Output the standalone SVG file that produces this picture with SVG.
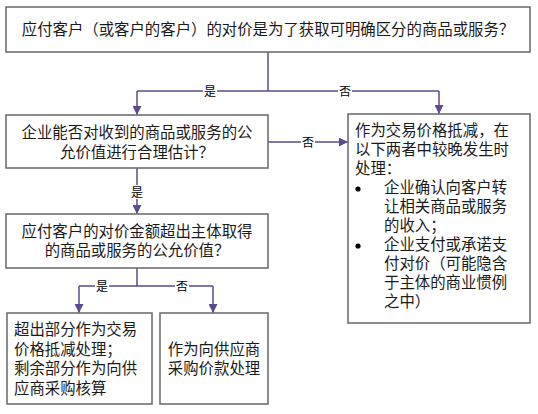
<svg xmlns="http://www.w3.org/2000/svg" width="538" height="414" viewBox="0 0 538 414">
<defs>
<style>
.box{fill:#fff;stroke:#707070;stroke-width:1.6}
.t{font-family:"Noto Sans CJK SC","Liberation Sans",sans-serif;font-size:15.4px;fill:#1a1a1a}
.c{text-anchor:middle}
.ln{fill:none;stroke:#5e4a8e;stroke-width:1.5}
.lbl{font-family:"Noto Sans CJK SC","Liberation Sans",sans-serif;font-size:12px;fill:#000;text-anchor:middle}
.lb{fill:#fff}
</style>
<marker id="ah" viewBox="0 0 10 10" refX="10" refY="5" markerWidth="6" markerHeight="6" orient="auto" markerUnits="strokeWidth">
<path d="M0,0 L10,5 L0,10 z" fill="#5e4a8e"/>
</marker>
</defs>
<rect width="538" height="414" fill="#fff"/>
<g id="connectors">
<path class="ln" d="M268 52 V91"/>
<path class="ln" d="M137 91 H439"/>
<path class="ln" d="M137 91 V115" marker-end="url(#ah)"/>
<path class="ln" d="M439 91 V114" marker-end="url(#ah)"/>
<path class="ln" d="M268 142 H348" marker-end="url(#ah)"/>
<path class="ln" d="M137 168 V214" marker-end="url(#ah)"/>
<path class="ln" d="M137 268 V286 M79 286 H213"/>
<path class="ln" d="M79 286 V313" marker-end="url(#ah)"/>
<path class="ln" d="M213 286 V313" marker-end="url(#ah)"/>
<rect class="lb" x="203" y="84" width="14" height="14"/>
<text class="lbl" x="210" y="95.5">是</text>
<rect class="lb" x="338" y="84" width="14" height="14"/>
<text class="lbl" x="345" y="95.5">否</text>
<rect class="lb" x="301" y="135" width="14" height="14"/>
<text class="lbl" x="308" y="146.5">否</text>
<rect class="lb" x="130" y="185" width="14" height="14"/>
<text class="lbl" x="137" y="196.5">是</text>
<rect class="lb" x="95" y="279" width="14" height="14"/>
<text class="lbl" x="102" y="290.5">是</text>
<rect class="lb" x="175" y="279" width="14" height="14"/>
<text class="lbl" x="182" y="290.5">否</text>
</g>
<g id="n1">
<rect class="box" x="6" y="7" width="524" height="45"/>
<text class="t c" x="268" y="35">应付客户（或客户的客户）的对价是为了获取可明确区分的商品或服务？</text>
</g>
<g id="n2">
<rect class="box" x="6" y="115" width="262" height="53"/>
<text class="t c"><tspan x="137" y="138">企业能否对收到的商品或服务的公</tspan><tspan x="137" y="157.5">允价值进行合理估计？</tspan></text>
</g>
<g id="n3">
<rect class="box" x="348" y="114" width="182" height="209"/>
<text class="t"><tspan x="355" y="136">作为交易价格抵减，在</tspan><tspan x="355" y="155">以下两者中较晚发生时</tspan><tspan x="355" y="174">处理：</tspan></text>
<circle cx="358" cy="189" r="2.6" fill="#000"/>
<text class="t"><tspan x="384" y="193">企业确认向客户转</tspan><tspan x="384" y="212">让相关商品或服务</tspan><tspan x="384" y="231">的收入；</tspan></text>
<circle cx="358" cy="246" r="2.6" fill="#000"/>
<text class="t"><tspan x="384" y="250">企业支付或承诺支</tspan><tspan x="384" y="269">付对价（可能隐含</tspan><tspan x="384" y="288">于主体的商业惯例</tspan><tspan x="384" y="307">之中）</tspan></text>
</g>
<g id="n4">
<rect class="box" x="6" y="214" width="262" height="54"/>
<text class="t c"><tspan x="137" y="237">应付客户的对价金额超出主体取得</tspan><tspan x="137" y="256">的商品或服务的公允价值？</tspan></text>
</g>
<g id="n5">
<rect class="box" x="7" y="313" width="145" height="91"/>
<text class="t"><tspan x="14" y="335">超出部分作为交易</tspan><tspan x="14" y="354.5">价格抵减处理；</tspan><tspan x="14" y="374">剩余部分作为向供</tspan><tspan x="14" y="393.5">应商采购核算</tspan></text>
</g>
<g id="n6">
<rect class="box" x="160" y="313" width="108" height="91"/>
<text class="t c"><tspan x="214" y="355">作为向供应商</tspan><tspan x="214" y="374">采购价款处理</tspan></text>
</g>
</svg>
